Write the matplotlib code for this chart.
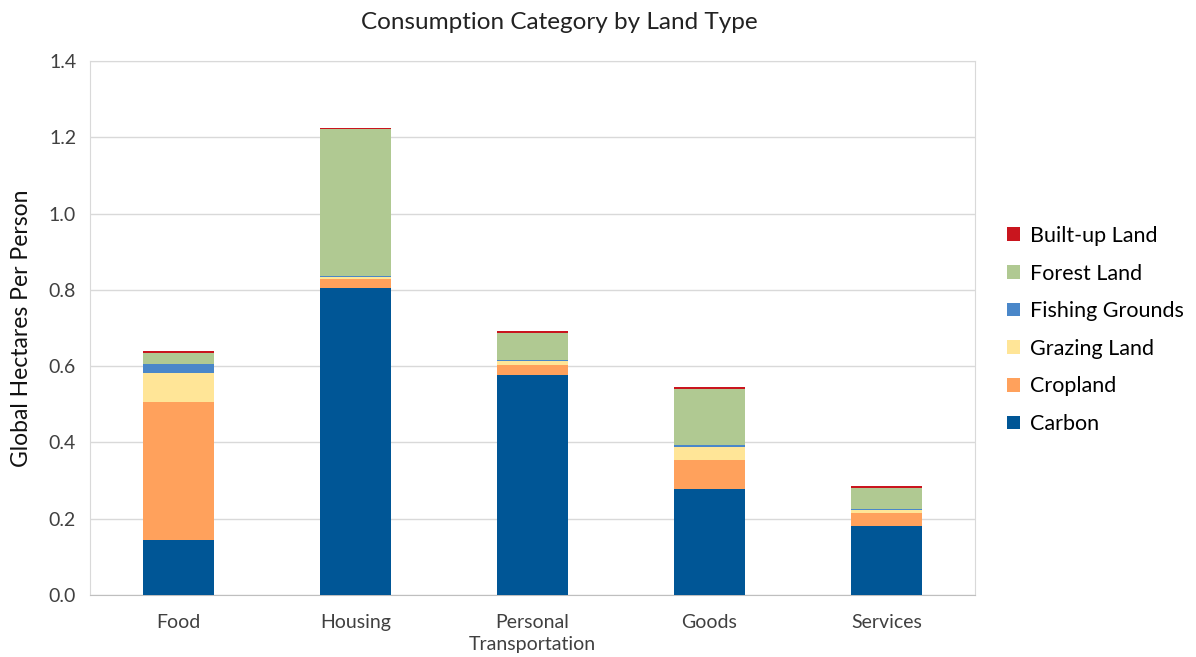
import numpy as np
import matplotlib.pyplot as plt

plt.rcParams['font.family'] = ['Lato', 'DejaVu Sans']

categories = ['Food', 'Housing', 'Personal\nTransportation', 'Goods', 'Services']
carbon = [0.144, 0.806, 0.576, 0.277, 0.180]
cropland = [0.361, 0.023, 0.028, 0.077, 0.034]
grazing = [0.077, 0.004, 0.009, 0.033, 0.009]
fishing = [0.023, 0.004, 0.004, 0.006, 0.003]
forest = [0.030, 0.384, 0.071, 0.148, 0.055]
builtup = [0.004, 0.004, 0.003, 0.004, 0.005]

series = [
    ('Carbon', carbon, '#005696'),
    ('Cropland', cropland, '#FFA15C'),
    ('Grazing Land', grazing, '#FFE597'),
    ('Fishing Grounds', fishing, '#4A87C9'),
    ('Forest Land', forest, '#B0C992'),
    ('Built-up Land', builtup, '#C9151E'),
]

fig = plt.figure(figsize=(11.96, 6.57), dpi=100)
ax = fig.add_axes([90/1196, 62/657, 885/1196, 534/657])

x = np.arange(len(categories))
bottom = np.zeros(len(categories))
handles = []
for name, vals, col in series:
    b = ax.bar(x, vals, 0.40, bottom=bottom, color=col, label=name,
               linewidth=0, zorder=3)
    handles.append(b)
    bottom += np.array(vals)

ax.set_xlim(-0.5, len(categories) - 0.5)
ax.set_ylim(0, 1.4)
ax.set_yticks(np.arange(0, 1.41, 0.2))
ax.set_yticklabels([f'{v:.1f}' for v in np.arange(0, 1.41, 0.2)], fontsize=14)
ax.set_xticks(x)
ax.set_xticklabels(categories, fontsize=14, linespacing=1.35)
ax.tick_params(axis='both', length=0, pad=10, colors='#404040')
ax.tick_params(axis='x', pad=14)
ax.grid(axis='y', color='#D9D9D9', linewidth=1, zorder=0)
for s in ['left', 'right', 'top']:
    ax.spines[s].set_color('#D9D9D9')
ax.spines['bottom'].set_color('#BFBFBF')

ax.set_ylabel('Global Hectares Per Person', fontsize=16.5, labelpad=12,
              color='#111111')
fig.text(0.468, 0.966, 'Consumption Category by Land Type', ha='center',
         va='center', fontsize=17.5, color='#222222')

leg = fig.legend(handles[::-1], [s[0] for s in series][::-1],
                 loc='center left', bbox_to_anchor=(988/1196, 1 - 330/657),
                 frameon=False, fontsize=15.5, handlelength=0.6,
                 handleheight=0.6, handletextpad=0.45, labelspacing=0.82)

fig.savefig('out.png', dpi=100)
